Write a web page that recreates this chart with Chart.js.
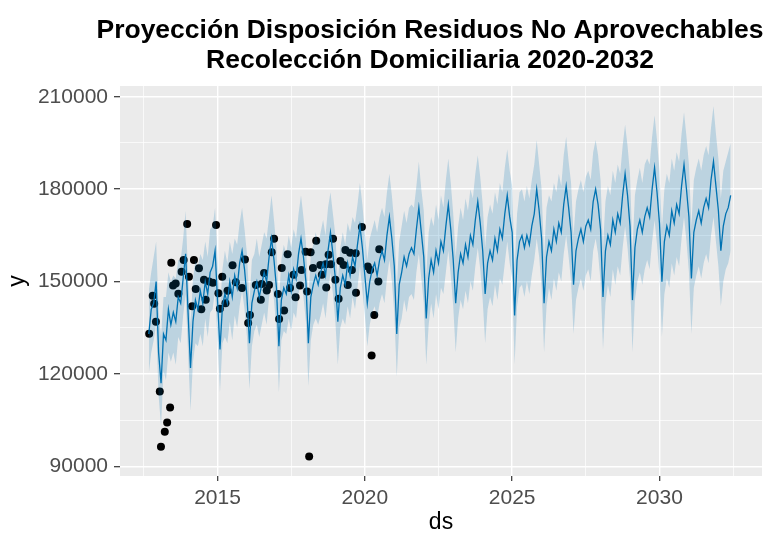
<!DOCTYPE html>
<html>
<head>
<meta charset="utf-8">
<script src="https://cdn.jsdelivr.net/npm/chart.js@4.4.1/dist/chart.umd.min.js"></script>
<style>
    html, body { margin: 0; padding: 0; background: #ffffff; }
    canvas { display: block; }
</style>
</head>
<body>
<canvas id="myChart" width="766" height="536"></canvas>
<script>
const titleLines = ['Proyección Disposición Residuos No Aprovechables', 'Recolección Domiciliaria 2020-2032'];

// observed points (ds as decimal year, y in thousands)
const histDs = [
    2012.68, 2012.80, 2012.85, 2012.91, 2013.04, 2013.08, 2013.21, 2013.29, 2013.39, 2013.43,
    2013.49, 2013.58, 2013.67, 2013.78, 2013.85, 2013.97, 2014.03, 2014.14, 2014.20, 2014.26,
    2014.37, 2014.45, 2014.54, 2014.60, 2014.71, 2014.84, 2014.95, 2015.03, 2015.08, 2015.16,
    2015.27, 2015.34, 2015.51, 2015.62, 2015.83, 2015.93, 2016.04, 2016.10, 2016.30, 2016.47,
    2016.50, 2016.58, 2016.67, 2016.75, 2016.84, 2016.92, 2017.05, 2017.09, 2017.18, 2017.26,
    2017.38, 2017.46, 2017.58, 2017.65, 2017.80, 2017.85, 2017.99, 2018.04, 2018.11, 2018.16,
    2018.24, 2018.35, 2018.49, 2018.54, 2018.68, 2018.69, 2018.77, 2018.85, 2018.92, 2019.00,
    2019.11, 2019.17, 2019.28, 2019.34, 2019.42, 2019.50, 2019.56, 2019.69, 2019.70, 2019.90,
    2020.10, 2020.18, 2020.23, 2020.32, 2020.46, 2020.49
];
const histY = [
    133.1, 145.4, 142.8, 137.0, 114.3, 96.4, 101.3, 104.3, 109.1, 156.1,
    148.7, 149.4, 146.1, 153.2, 157.0, 168.7, 151.6, 142.0, 157.0, 147.6,
    154.3, 141.0, 150.6, 144.1, 150.0, 149.6, 168.4, 146.2, 141.2, 151.6,
    143.0, 147.0, 155.3, 149.8, 147.9, 157.2, 136.6, 139.2, 148.9, 144.1,
    149.2, 152.8, 147.1, 148.9, 159.5, 163.9, 146.0, 137.9, 154.4, 140.6,
    158.9, 147.9, 152.2, 144.9, 148.7, 153.8, 159.7, 146.8, 93.2, 159.5,
    154.4, 163.3, 155.4, 152.2, 155.6, 148.1, 158.7, 155.6, 163.9, 150.6,
    144.4, 156.7, 155.4, 160.3, 148.9, 159.4, 153.8, 159.2, 146.4, 167.7,
    154.9, 153.8, 126.0, 139.2, 150.0, 160.5
];

// monthly forecast, Sep 2012 .. Jun 2032 (thousands), one row per year
const startYear = 2012;
const startMonth = 9;
const yhat = [
    133, 141, 143, 150,
    127, 117, 133, 131, 141, 136, 140, 137, 145, 143, 151, 159,
    140, 122, 137, 144, 141, 147, 143, 150, 146, 153, 155, 160,
    144, 128, 142, 146, 143, 150, 145, 152, 148, 156, 160, 154,
    145, 130, 143, 147, 150, 145, 149, 153, 150, 158, 164, 157,
    148, 129, 144, 148, 146, 152, 147, 154, 151, 159, 164, 158,
    150, 130, 145, 149, 152, 149, 153, 156, 152, 160, 166, 159,
    151, 137, 148, 152, 149, 156, 152, 158, 155, 162, 168, 161,
    152, 143, 150, 154, 156, 152, 157, 160, 157, 165, 171, 164,
    155, 133, 149, 153, 158, 155, 159, 161, 159, 167, 174, 166,
    158, 138, 151, 157, 153, 160, 156, 163, 160, 168, 175, 167,
    157, 143, 153, 159, 156, 162, 158, 165, 162, 170, 176, 169,
    160, 146, 156, 160, 157, 164, 160, 167, 164, 172, 178, 171,
    166, 139, 157, 163, 165, 161, 165, 162, 168, 172, 180, 173,
    164, 143, 158, 163, 160, 167, 163, 169, 166, 175, 181, 174,
    166, 149, 160, 164, 167, 163, 168, 170, 167, 176, 180, 175,
    167, 145, 160, 165, 162, 170, 166, 172, 169, 178, 185, 178,
    168, 144, 161, 167, 170, 166, 171, 174, 171, 180, 187, 179,
    169, 150, 163, 168, 165, 173, 169, 175, 172, 181, 188, 180,
    171, 151, 166, 170, 173, 169, 174, 177, 174, 183, 189, 181,
    173, 160, 168, 172, 174, 178
];
const yhatUpper = [
    147, 153, 158, 163,
    141, 132, 145, 145, 153, 150, 152, 151, 157, 157, 164, 173,
    152, 136, 151, 157, 155, 159, 157, 163, 158, 167, 168, 174,
    158, 141, 154, 160, 156, 163, 159, 164, 162, 169, 174, 167,
    159, 143, 157, 159, 164, 158, 162, 166, 164, 171, 178, 170,
    161, 143, 157, 162, 159, 165, 161, 167, 164, 172, 178, 171,
    163, 144, 159, 162, 166, 162, 166, 170, 165, 174, 179, 172,
    165, 150, 161, 166, 162, 169, 166, 171, 169, 175, 182, 175,
    166, 157, 164, 167, 170, 166, 171, 174, 171, 179, 185, 178,
    169, 148, 163, 168, 173, 169, 174, 175, 174, 181, 189, 180,
    173, 152, 166, 171, 168, 175, 170, 178, 174, 183, 190, 182,
    172, 158, 168, 174, 170, 177, 173, 180, 177, 185, 191, 184,
    175, 161, 171, 175, 172, 179, 175, 182, 179, 187, 193, 186,
    181, 154, 172, 179, 180, 176, 181, 177, 183, 188, 196, 188,
    180, 158, 174, 178, 176, 182, 179, 185, 181, 191, 197, 189,
    182, 165, 176, 180, 183, 179, 184, 186, 183, 192, 196, 191,
    183, 161, 176, 181, 178, 186, 182, 188, 185, 194, 201, 194,
    185, 160, 178, 183, 187, 182, 188, 190, 188, 197, 204, 196,
    186, 167, 180, 185, 182, 190, 186, 192, 189, 198, 205, 197,
    188, 168, 183, 187, 190, 186, 191, 194, 191, 200, 207, 198,
    190, 177, 186, 189, 192, 195
];
const yhatLower = [
    120, 127, 131, 136,
    113, 103, 121, 118, 127, 124, 127, 123, 132, 130, 139, 146,
    127, 108, 124, 130, 129, 133, 129, 138, 132, 140, 141, 147,
    131, 114, 130, 132, 130, 137, 131, 139, 135, 142, 147, 141,
    132, 115, 129, 134, 136, 132, 136, 140, 136, 145, 150, 144,
    134, 114, 131, 134, 133, 138, 134, 140, 138, 146, 150, 145,
    137, 116, 131, 136, 138, 136, 139, 143, 138, 146, 153, 146,
    137, 123, 135, 138, 136, 142, 138, 145, 141, 148, 155, 147,
    139, 129, 136, 140, 142, 138, 143, 146, 143, 151, 157, 150,
    140, 119, 135, 138, 144, 140, 145, 146, 144, 153, 159, 151,
    143, 123, 136, 143, 138, 146, 141, 148, 146, 153, 160, 152,
    142, 127, 138, 144, 141, 147, 143, 150, 147, 155, 161, 154,
    144, 130, 141, 145, 142, 149, 144, 151, 149, 156, 163, 156,
    151, 123, 142, 148, 149, 145, 150, 146, 152, 157, 164, 158,
    148, 127, 142, 148, 144, 151, 147, 153, 150, 159, 165, 158,
    150, 133, 144, 148, 151, 147, 152, 154, 150, 160, 164, 159,
    150, 128, 143, 149, 145, 154, 149, 155, 152, 161, 168, 161,
    151, 127, 144, 150, 153, 149, 154, 157, 154, 163, 170, 162,
    152, 132, 146, 151, 148, 156, 152, 158, 155, 164, 171, 163,
    153, 133, 148, 152, 155, 151, 156, 159, 156, 165, 171, 163,
    155, 142, 150, 154, 156, 160
];

const xGrid = [2012.5, 2015, 2017.5, 2020, 2022.5, 2025, 2027.5, 2030, 2032.5];
const xLabels = [2015, 2020, 2025, 2030];
const yGrid = [90000, 105000, 120000, 135000, 150000, 165000, 180000, 195000, 210000];
const yLabels = [90000, 120000, 150000, 180000, 210000];

const months = yhat.map((v, i) => startYear + (startMonth - 1 + i) / 12);
const toPoints = (xs, ys) => xs.map((x, i) => ({ x: x, y: ys[i] * 1000 }));

Chart.defaults.font.family = "'Liberation Sans', Arial, sans-serif";

const panelBg = {
    id: 'panelBg',
    beforeDraw(chart) {
        const a = chart.chartArea;
        const c = chart.ctx;
        c.save();
        c.fillStyle = '#EBEBEB';
        c.fillRect(a.left, a.top, a.right - a.left, a.bottom - a.top);
        c.restore();
    }
};

const titleText = {
    id: 'titleText',
    afterDraw(chart) {
        const c = chart.ctx;
        c.save();
        c.fillStyle = '#000000';
        c.font = "bold 26.5px 'Liberation Sans', Arial, sans-serif";
        c.textAlign = 'center';
        c.textBaseline = 'alphabetic';
        c.fillText(titleLines[0], 430, 38);
        c.fillText(titleLines[1], 430, 68);
        c.restore();
    }
};

const isMajor = (ctx, list) => ctx.tick && list.includes(ctx.tick.value);

const ctx = document.getElementById('myChart').getContext('2d');
const myChart = new Chart(ctx, {
    type: 'line',
    data: {
        datasets: [
            {
                label: 'upper',
                data: toPoints(months, yhatUpper),
                borderWidth: 0,
                borderColor: 'rgba(0,0,0,0)',
                pointRadius: 0,
                fill: false
            },
            {
                label: 'lower',
                data: toPoints(months, yhatLower),
                borderWidth: 0,
                borderColor: 'rgba(0,0,0,0)',
                backgroundColor: 'rgba(0, 114, 178, 0.2)',
                pointRadius: 0,
                fill: '-1'
            },
            {
                label: 'yhat',
                data: toPoints(months, yhat),
                borderColor: '#0072B2',
                borderWidth: 1.3,
                pointRadius: 0,
                fill: false
            },
            {
                label: 'y',
                data: toPoints(histDs, histY),
                showLine: false,
                pointRadius: 4,
                pointBackgroundColor: '#000000',
                pointBorderWidth: 0,
                fill: false
            }
        ]
    },
    options: {
        responsive: false,
        animation: false,
        layout: { padding: { top: 86, right: 0, bottom: 0, left: 0 } },
        plugins: {
            legend: { display: false },
            tooltip: { enabled: false },
            title: { display: false }
        },
        scales: {
            x: {
                type: 'linear',
                min: 2011.69,
                max: 2033.48,
                afterBuildTicks: s => { s.ticks = xGrid.map(v => ({ value: v })); },
                afterFit: s => { s.height = 60; },
                border: { display: false },
                grid: {
                    color: '#FFFFFF',
                    lineWidth: c => isMajor(c, xLabels) ? 1.4 : 0.7,
                    tickColor: c => isMajor(c, xLabels) ? '#333333' : 'rgba(0,0,0,0)',
                    tickLength: 5,
                    tickWidth: 1.2
                },
                ticks: {
                    autoSkip: false,
                    maxRotation: 0,
                    padding: 5,
                    color: '#4D4D4D',
                    font: { size: 21 },
                    callback: v => xLabels.includes(v) ? String(v) : ''
                },
                title: {
                    display: true,
                    text: 'ds',
                    color: '#000000',
                    font: { size: 23 },
                    padding: { top: 0, bottom: 0 }
                }
            },
            y: {
                min: 86900,
                max: 213500,
                afterBuildTicks: s => { s.ticks = yGrid.map(v => ({ value: v })); },
                afterFit: s => { s.width = 120; },
                border: { display: false },
                grid: {
                    color: '#FFFFFF',
                    lineWidth: c => isMajor(c, yLabels) ? 1.4 : 0.7,
                    tickColor: c => isMajor(c, yLabels) ? '#333333' : 'rgba(0,0,0,0)',
                    tickLength: 6,
                    tickWidth: 1.2
                },
                ticks: {
                    padding: 6,
                    color: '#4D4D4D',
                    font: { size: 21 },
                    callback: v => yLabels.includes(v) ? String(v) : ''
                },
                title: {
                    display: true,
                    text: 'y',
                    color: '#000000',
                    font: { size: 23 },
                    padding: { top: 4, bottom: 0 }
                }
            }
        }
    },
    plugins: [panelBg, titleText]
});
</script>
</body>
</html>
